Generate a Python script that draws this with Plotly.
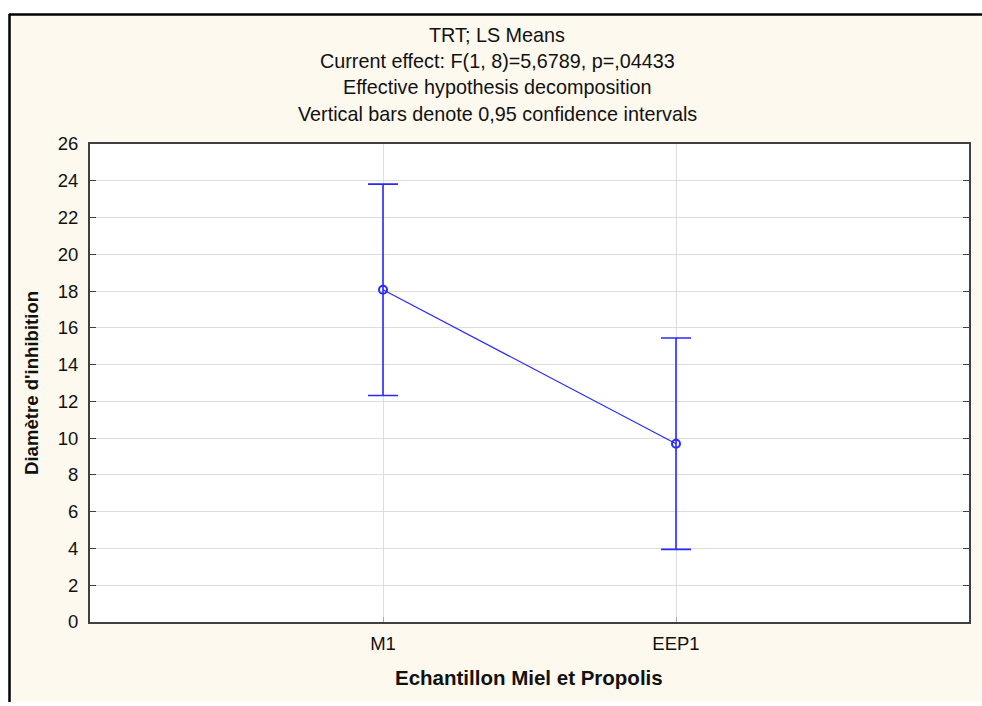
import plotly.graph_objects as go

categories = ["M1", "EEP1"]
positions = [1, 2]
means = [18.07, 9.70]
ci_low = [12.32, 3.95]
ci_high = [23.82, 15.45]
y_ticks = list(range(0, 27, 2))

title_lines = [
    "TRT; LS Means",
    "Current effect: F(1, 8)=5,6789, p=,04433",
    "Effective hypothesis decomposition",
    "Vertical bars denote 0,95 confidence intervals",
]

W, H = 982, 706
L, R, T, B = 90, 13, 144, 84
pw, ph = W - L - R, H - T - B

def px_x(p):
    return (p - L) / pw

def px_y(p):
    return (H - B - p) / ph

FONT = "Liberation Sans, Arial, sans-serif"
BLUE = "#2a2aff"
TXT = "#111111"

fig = go.Figure()
fig.add_trace(go.Scatter(
    x=positions, y=means, mode="lines+markers",
    line=dict(color=BLUE, width=1.2),
    marker=dict(symbol="circle-open", size=8, color=BLUE, line=dict(width=2)),
    error_y=dict(type="data", symmetric=False,
                 array=[h - m for h, m in zip(ci_high, means)],
                 arrayminus=[m - l for m, l in zip(means, ci_low)],
                 color=BLUE, thickness=1.6, width=15),
    showlegend=False,
))

shapes = [
    dict(type="rect", xref="paper", yref="paper", x0=px_x(-5), x1=px_x(W + 5), y0=px_y(-5), y1=px_y(14), fillcolor="white", line=dict(width=0), layer="above"),
    dict(type="rect", xref="paper", yref="paper", x0=px_x(-5), x1=px_x(9), y0=px_y(-5), y1=px_y(H + 5), fillcolor="white", line=dict(width=0), layer="above"),
    dict(type="rect", xref="paper", yref="paper", x0=px_x(-5), x1=px_x(W + 5), y0=px_y(702), y1=px_y(H + 5), fillcolor="white", line=dict(width=0), layer="above"),
    dict(type="line", xref="paper", yref="paper", x0=px_x(9), x1=px_x(W + 5), y0=px_y(14.5), y1=px_y(14.5), line=dict(color="black", width=2.5), layer="above"),
    dict(type="line", xref="paper", yref="paper", x0=px_x(9.5), x1=px_x(9.5), y0=px_y(14), y1=px_y(702), line=dict(color="black", width=2.5), layer="above"),
]

annotations = []
for i, t in enumerate(title_lines):
    annotations.append(dict(
        text=t, xref="paper", yref="paper", x=px_x(497), y=px_y(35 + i * 26.2),
        xanchor="center", yanchor="middle", showarrow=False,
        font=dict(family=FONT, size=19.8, color=TXT),
    ))
annotations.append(dict(
    text="<b>Echantillon Miel et Propolis</b>", xref="paper", yref="paper",
    x=px_x(529), y=px_y(677), xanchor="center", yanchor="middle", showarrow=False,
    font=dict(family=FONT, size=20.5, color=TXT),
))
annotations.append(dict(
    text="<b>Diamètre d'inhibition</b>", xref="paper", yref="paper", textangle=-90,
    x=px_x(31), y=px_y(383), xanchor="center", yanchor="middle", showarrow=False,
    font=dict(family=FONT, size=18.6, color=TXT),
))

fig.update_layout(
    width=W, height=H,
    margin=dict(l=L, r=R, t=T, b=B),
    paper_bgcolor="#fdf9ee",
    plot_bgcolor="white",
    font=dict(family=FONT, size=16, color="black"),
    shapes=shapes,
    annotations=annotations,
    xaxis=dict(
        range=[0, 3], tickvals=positions, ticktext=categories,
        showgrid=True, gridcolor="#dddddd", gridwidth=1,
        showline=True, linecolor="#404040", linewidth=2, mirror=True,
        ticks="inside", ticklen=5, tickcolor="#aaaaaa", zeroline=False,
        ticklabelstandoff=4,
        tickfont=dict(family=FONT, size=18.5, color=TXT),
    ),
    yaxis=dict(
        range=[0, 26], tickvals=y_ticks,
        showgrid=True, gridcolor="#dddddd", gridwidth=1,
        showline=True, linecolor="#404040", linewidth=2, mirror="ticks",
        ticks="inside", ticklen=6, tickcolor="#404040", zeroline=False,
        ticklabelstandoff=6,
        tickfont=dict(family=FONT, size=18.5, color=TXT),
    ),
)

fig.write_html("out.html")
